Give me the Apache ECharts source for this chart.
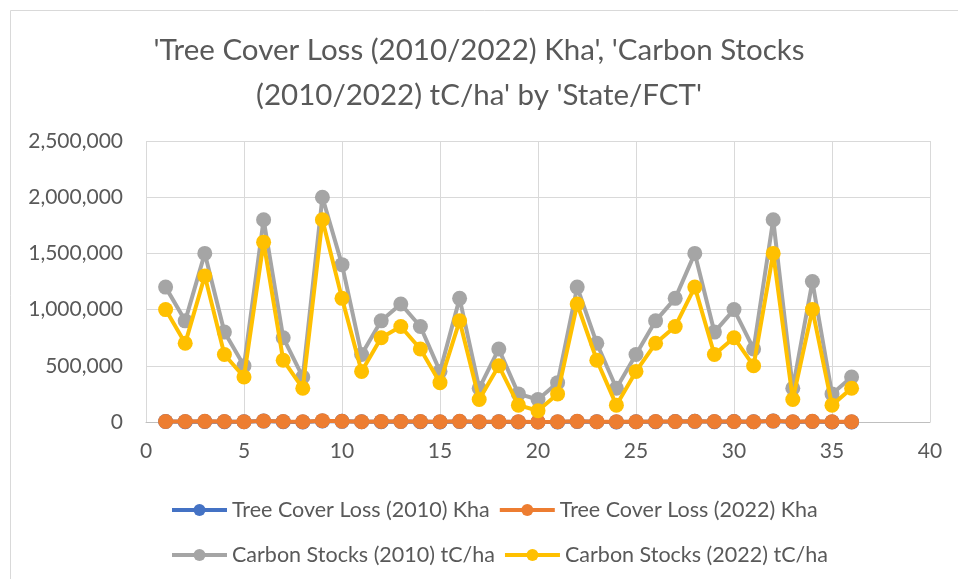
<!DOCTYPE html>
<html>
<head>
<meta charset="utf-8">
<script src="https://cdn.jsdelivr.net/npm/echarts@6/dist/echarts.min.js"></script>
<style>html,body{margin:0;padding:0;background:#fff;}#chart{width:958px;height:579px;}</style>
</head>
<body>
<div id="chart"></div>
<script>
// State/FCT index
const stateIndex = [1,2,3,4,5,6,7,8,9,10,11,12,13,14,15,16,17,18,19,20,21,22,23,24,25,26,27,28,29,30,31,32,33,34,35,36];
// Tree Cover Loss (2010) Kha
const treeLoss2010 = [4000,3000,5000,3000,2000,8000,3000,1000,9000,6000,2000,3000,4000,3000,1000,5000,1000,2000,1000,500,1000,5000,2000,1000,2000,3000,4000,6000,3000,4000,2000,8000,1000,5000,1000,1000];
// Tree Cover Loss (2022) Kha
const treeLoss2022 = [5000,4000,6000,4000,3000,10000,4000,2000,12000,7000,3000,4000,5000,4000,2000,6000,2000,3000,2000,1000,2000,6000,3000,2000,3000,4000,5000,7000,4000,5000,3000,10000,2000,6000,2000,2000];
// Carbon Stocks (2010) tC/ha
const carbon2010 = [1200000,900000,1500000,800000,500000,1800000,750000,400000,2000000,1400000,600000,900000,1050000,850000,450000,1100000,300000,650000,250000,200000,350000,1200000,700000,300000,600000,900000,1100000,1500000,800000,1000000,650000,1800000,300000,1250000,250000,400000];
// Carbon Stocks (2022) tC/ha
const carbon2022 = [1000000,700000,1300000,600000,400000,1600000,550000,300000,1800000,1100000,450000,750000,850000,650000,350000,900000,200000,500000,150000,100000,250000,1050000,550000,150000,450000,700000,850000,1200000,600000,750000,500000,1500000,200000,1000000,150000,300000];

const seriesNames = ['Tree Cover Loss (2010) Kha','Tree Cover Loss (2022) Kha','Carbon Stocks (2010) tC/ha','Carbon Stocks (2022) tC/ha'];
const seriesData = [treeLoss2010, treeLoss2022, carbon2010, carbon2022];
const colors = ['#4472C4','#ED7D31','#A5A5A5','#FFC000'];
const FONT = 'Lato';

const chart = echarts.init(document.getElementById('chart'), null, {renderer:'canvas'});
const legendText = {color:'#595959', fontSize:21.5, fontFamily:FONT};
chart.setOption({
  animation:false,
  backgroundColor:'#fff',
  color: colors,
  title:{
    text:"'Tree Cover Loss (2010/2022) Kha', 'Carbon Stocks\n(2010/2022) tC/ha' by 'State/FCT'",
    left:'center', top:23,
    textStyle:{color:'#595959', fontSize:29.5, fontWeight:'normal', fontFamily:FONT, lineHeight:45}
  },
  graphic:[{type:'rect', shape:{x:10.5,y:10.5,width:1000,height:1000}, style:{fill:'none', stroke:'#d9d9d9', lineWidth:1}, silent:true}],
  legend:[
    {data:[seriesNames[0],seriesNames[1]], left:165, top:494, itemWidth:55, itemHeight:15, itemGap:8, lineStyle:{width:4}, textStyle:legendText},
    {data:[seriesNames[2],seriesNames[3]], left:165, top:539, itemWidth:55, itemHeight:15, itemGap:8, lineStyle:{width:4}, textStyle:legendText}
  ],
  grid:{left:146, right:28, top:141, bottom:157, containLabel:false},
  xAxis:{
    type:'value', min:0, max:40, interval:5,
    axisLine:{show:true, lineStyle:{color:'#bfbfbf', width:1}},
    axisTick:{show:false},
    splitLine:{show:true, lineStyle:{color:'#d9d9d9', width:1}},
    axisLabel:{color:'#595959', fontSize:21, fontFamily:FONT, margin:19}
  },
  yAxis:{
    type:'value', min:0, max:2500000, interval:500000,
    axisLine:{show:false},
    axisTick:{show:false},
    splitLine:{show:true, lineStyle:{color:'#d9d9d9', width:1}},
    axisLabel:{color:'#595959', fontSize:21, fontFamily:FONT, margin:23,
      formatter:v=>v.toLocaleString('en-US')}
  },
  series: seriesNames.map((n,i)=>({
    name:n, type:'line',
    data: stateIndex.map((x,j)=>[x, seriesData[i][j]]),
    symbol:'circle', symbolSize:15,
    lineStyle:{width:4, color:colors[i]},
    itemStyle:{color:colors[i]},
    z: 2+i
  }))
});
</script>
</body>
</html>
